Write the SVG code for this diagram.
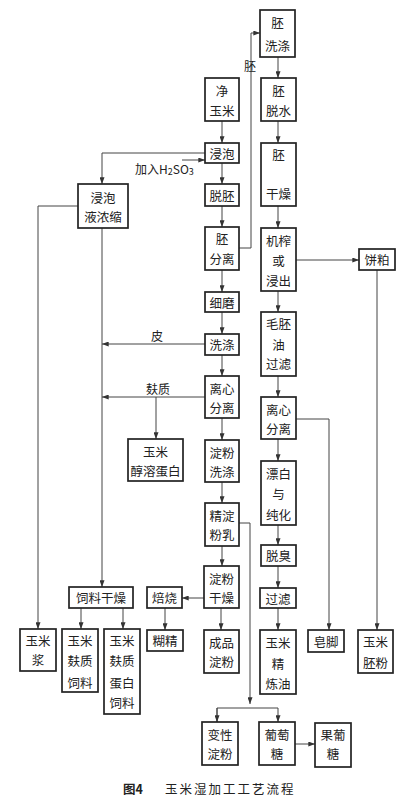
<svg xmlns="http://www.w3.org/2000/svg" width="413" height="800" viewBox="0 0 413 800">
<style>
.b rect{fill:#fff;stroke:#222;stroke-width:1.7}
text{font-family:"Noto Sans CJK SC","Noto Sans",sans-serif;font-size:12.5px;fill:#222}
.b text{text-anchor:middle;dominant-baseline:central}
.c path{fill:none;stroke:#444;stroke-width:1}
.lbl{font-size:12px}
</style>
<defs>
<marker id="a" viewBox="0 0 8 6" refX="8" refY="3" markerWidth="7" markerHeight="5" markerUnits="userSpaceOnUse" orient="auto">
<path d="M0,0 L8,3 L0,6 z" fill="#333"/>
</marker>
</defs>
<rect width="413" height="800" fill="#fff"/>
<g class="c">
<path d="M278,57V78" marker-end="url(#a)"/>
<path d="M278,121V143" marker-end="url(#a)"/>
<path d="M278,206V228" marker-end="url(#a)"/>
<path d="M278,291V312" marker-end="url(#a)"/>
<path d="M278,376V397" marker-end="url(#a)"/>
<path d="M278,439V461" marker-end="url(#a)"/>
<path d="M278,525V545" marker-end="url(#a)"/>
<path d="M278,566V588" marker-end="url(#a)"/>
<path d="M278,608V630" marker-end="url(#a)"/>
<path d="M296,260H359" marker-end="url(#a)"/>
<path d="M377,270V630" marker-end="url(#a)"/>
<path d="M296,419H329V630" marker-end="url(#a)"/>
<path d="M222,121V143" marker-end="url(#a)"/>
<path d="M222,163V184" marker-end="url(#a)"/>
<path d="M222,206V227" marker-end="url(#a)"/>
<path d="M222,270V292" marker-end="url(#a)"/>
<path d="M222,312V334" marker-end="url(#a)"/>
<path d="M222,355V376" marker-end="url(#a)"/>
<path d="M222,418V440" marker-end="url(#a)"/>
<path d="M222,482V503" marker-end="url(#a)"/>
<path d="M222,546V566" marker-end="url(#a)"/>
<path d="M221,608V630" marker-end="url(#a)"/>
<path d="M204,598H182" marker-end="url(#a)"/>
<path d="M165,608V630" marker-end="url(#a)"/>
<path d="M239,248H251V33H260" marker-end="url(#a)"/>
<path d="M182,160H205" marker-end="url(#a)"/>
<path d="M205,153H102V184" marker-end="url(#a)"/>
<path d="M102,228V587" marker-end="url(#a)"/>
<path d="M78,206H38V629" marker-end="url(#a)"/>
<path d="M205,344H102" marker-end="url(#a)"/>
<path d="M205,397H102" marker-end="url(#a)"/>
<path d="M156,397V439" marker-end="url(#a)"/>
<path d="M81,608V629" marker-end="url(#a)"/>
<path d="M123,608V629" marker-end="url(#a)"/>
<path d="M239,523H250V704" marker-end="url(#a)"/>
<path d="M217,722V708H278V722" marker-end="url(#a)"/>
<path d="M217,708V722" marker-end="url(#a)"/>
<path d="M295,744H315" marker-end="url(#a)"/>
<text class="lbl" x="250" y="71" text-anchor="middle">胚</text>
<text class="lbl" x="157" y="341" text-anchor="middle">皮</text>
<text class="lbl" x="158" y="394" text-anchor="middle">麸质</text>
<text class="lbl" x="135" y="174">加入H<tspan font-size="9" dy="1">2</tspan><tspan dy="-1">SO</tspan><tspan font-size="9" dy="1">3</tspan></text>
</g>
<g class="b" id="n1"><rect x="260" y="10" width="35" height="47"/><text x="277.5" y="22">胚</text><text x="277.5" y="45">洗涤</text></g>
<g class="b" id="n2"><rect x="261" y="78" width="35" height="43"/><text x="278.5" y="90">胚</text><text x="278.5" y="110">脱水</text></g>
<g class="b" id="n3"><rect x="261" y="143" width="35" height="63"/><text x="278.5" y="154">胚</text><text x="278.5" y="193">干燥</text></g>
<g class="b" id="n4"><rect x="205" y="78" width="34" height="43"/><text x="222" y="90">净</text><text x="222" y="110">玉米</text></g>
<g class="b" id="n5"><rect x="205" y="143" width="34" height="20"/><text x="222" y="153">浸泡</text></g>
<g class="b" id="n6"><rect x="205" y="184" width="34" height="22"/><text x="222" y="195">脱胚</text></g>
<g class="b" id="n7"><rect x="205" y="227" width="34" height="43"/><text x="222" y="238">胚</text><text x="222" y="258">分离</text></g>
<g class="b" id="n8"><rect x="205" y="292" width="34" height="20"/><text x="222" y="302">细磨</text></g>
<g class="b" id="n9"><rect x="205" y="334" width="34" height="21"/><text x="222" y="344.5">洗涤</text></g>
<g class="b" id="n10"><rect x="205" y="376" width="34" height="42"/><text x="222" y="388">离心</text><text x="222" y="407">分离</text></g>
<g class="b" id="n11"><rect x="205" y="440" width="34" height="42"/><text x="222" y="452">淀粉</text><text x="222" y="471">洗涤</text></g>
<g class="b" id="n12"><rect x="205" y="503" width="34" height="43"/><text x="222" y="515">精淀</text><text x="222" y="534">粉乳</text></g>
<g class="b" id="n13"><rect x="204" y="566" width="35" height="42"/><text x="221.5" y="578">淀粉</text><text x="221.5" y="597">干燥</text></g>
<g class="b" id="n14"><rect x="204" y="630" width="35" height="43"/><text x="221.5" y="642">成品</text><text x="221.5" y="661">淀粉</text></g>
<g class="b" id="n15"><rect x="202" y="722" width="36" height="43"/><text x="220" y="734">变性</text><text x="220" y="753">淀粉</text></g>
<g class="b" id="n16"><rect x="259" y="722" width="36" height="43"/><text x="277" y="734">葡萄</text><text x="277" y="753">糖</text></g>
<g class="b" id="n17"><rect x="315" y="723" width="36" height="44"/><text x="333" y="734">果葡</text><text x="333" y="753">糖</text></g>
<g class="b" id="n18"><rect x="78" y="184" width="50" height="44"/><text x="103" y="197">浸泡</text><text x="103" y="216">液浓缩</text></g>
<g class="b" id="n19"><rect x="69" y="587" width="64" height="21"/><text x="101" y="597.5">饲料干燥</text></g>
<g class="b" id="n20"><rect x="147" y="587" width="35" height="21"/><text x="164.5" y="597.5">焙烧</text></g>
<g class="b" id="n21"><rect x="147" y="630" width="36" height="21"/><text x="165" y="640.5">糊精</text></g>
<g class="b" id="n22"><rect x="128" y="439" width="55" height="42"/><text x="155.5" y="451">玉米</text><text x="155.5" y="470">醇溶蛋白</text></g>
<g class="b" id="n23"><rect x="20" y="629" width="36" height="42"/><text x="38" y="640">玉米</text><text x="38" y="659">浆</text></g>
<g class="b" id="n24"><rect x="62" y="629" width="36" height="63"/><text x="80" y="640">玉米</text><text x="80" y="660">麸质</text><text x="80" y="682">饲料</text></g>
<g class="b" id="n25"><rect x="104" y="629" width="36" height="85"/><text x="122" y="640">玉米</text><text x="122" y="660">麸质</text><text x="122" y="682">蛋白</text><text x="122" y="702">饲料</text></g>
<g class="b" id="n26"><rect x="261" y="228" width="35" height="63"/><text x="278.5" y="240">机榨</text><text x="278.5" y="260">或</text><text x="278.5" y="280">浸出</text></g>
<g class="b" id="n27"><rect x="261" y="312" width="35" height="64"/><text x="278.5" y="323">毛胚</text><text x="278.5" y="344">油</text><text x="278.5" y="363">过滤</text></g>
<g class="b" id="n28"><rect x="261" y="397" width="35" height="42"/><text x="278.5" y="409">离心</text><text x="278.5" y="428">分离</text></g>
<g class="b" id="n29"><rect x="261" y="461" width="35" height="64"/><text x="278.5" y="473">漂白</text><text x="278.5" y="493">与</text><text x="278.5" y="514">纯化</text></g>
<g class="b" id="n30"><rect x="261" y="545" width="35" height="21"/><text x="278.5" y="555.5">脱臭</text></g>
<g class="b" id="n31"><rect x="260" y="588" width="36" height="20"/><text x="278" y="598">过滤</text></g>
<g class="b" id="n32"><rect x="260" y="630" width="36" height="64"/><text x="278" y="642">玉米</text><text x="278" y="663">精</text><text x="278" y="683">炼油</text></g>
<g class="b" id="n33"><rect x="308" y="630" width="36" height="22"/><text x="326" y="641">皂脚</text></g>
<g class="b" id="n34"><rect x="359" y="249" width="36" height="21"/><text x="377" y="259.5">饼粕</text></g>
<g class="b" id="n35"><rect x="358" y="630" width="35" height="43"/><text x="375.5" y="641">玉米</text><text x="375.5" y="662">胚粉</text></g>
<g id="caption"><text x="123" y="794" font-weight="bold" font-size="12.5">图4</text><text x="165" y="794" letter-spacing="2">玉米湿加工工艺流程</text></g>
</svg>
